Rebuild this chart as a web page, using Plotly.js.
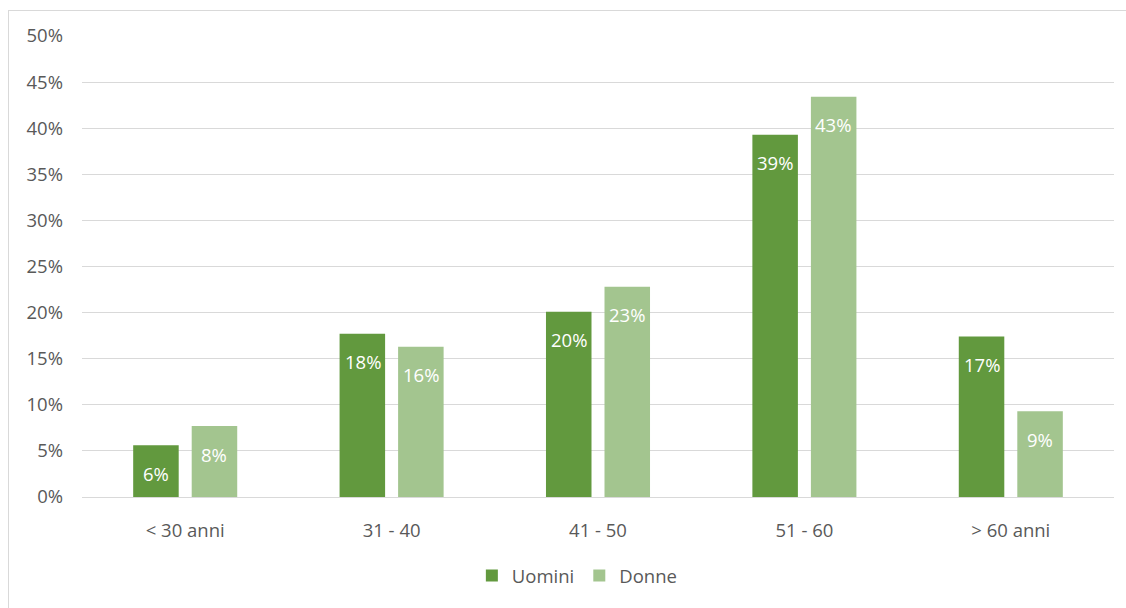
<!DOCTYPE html>
<html>
<head>
<meta charset="utf-8">
<script src="https://cdn.plot.ly/plotly-3.0.1.min.js"></script>
<style>
  html, body { margin: 0; padding: 0; background: #fff; }
  #frame { position: absolute; left: 8px; top: 10px; width: 1130px; height: 610px; border: 1px solid #d9d9d9; box-sizing: border-box; }
  #chart { position: absolute; left: 0; top: 0; width: 1126px; height: 608px; }
</style>
</head>
<body>
<div id="frame"></div>
<div id="chart"></div>
<script>
const categories = ['< 30 anni', '31 - 40', '41 - 50', '51 - 60', '> 60 anni'];
const uomini = [5.6, 17.7, 20.1, 39.3, 17.4];
const donne = [7.7, 16.3, 22.8, 43.4, 9.3];
const seriesNames = ['Uomini', 'Donne'];
const yTickVals = [0, 5, 10, 15, 20, 25, 30, 35, 40, 45, 50];

const colors = ['#62993E', '#A3C58F'];
const fontFam = '"Open Sans", "Noto Sans", sans-serif';
const fs = 18.5;

const traces = [uomini, donne].map((vals, i) => ({
  type: 'bar',
  name: seriesNames[i],
  x: categories,
  y: vals,
  marker: { color: colors[i] },
  hoverinfo: 'skip'
}));

const annotations = [];
[uomini, donne].forEach((vals, i) => {
  vals.forEach((v, j) => {
    annotations.push({
      x: categories[j], y: v, xref: 'x', yref: 'y',
      text: Math.round(v) + '%', showarrow: false,
      xshift: i === 0 ? -29 : 29, yshift: -28,
      font: { family: fontFam, size: fs, color: '#ffffff' }
    });
  });
});

const layout = {
  width: 1126, height: 608,
  margin: { l: 82, r: 12, t: 36, b: 111 },
  paper_bgcolor: 'rgba(0,0,0,0)',
  plot_bgcolor: 'rgba(0,0,0,0)',
  barmode: 'group',
  bargap: 0.433,
  bargroupgap: 0.222,
  font: { family: fontFam, size: fs, color: '#595959' },
  xaxis: {
    type: 'category',
    showgrid: false, showline: false, zeroline: false,
    ticks: '', ticklabelstandoff: 20,
    tickfont: { family: fontFam, size: fs, color: '#595959' }
  },
  yaxis: {
    range: [0, 50],
    tickvals: yTickVals,
    ticktext: yTickVals.map(v => v + '%'),
    showgrid: true, gridcolor: '#d9d9d9', gridwidth: 1,
    zeroline: true, zerolinecolor: '#d9d9d9', zerolinewidth: 1,
    showline: false, ticks: '', ticklabelstandoff: 18,
    tickfont: { family: fontFam, size: fs, color: '#595959' }
  },
  legend: {
    orientation: 'h', x: 0.48, xanchor: 'center', y: -0.13, yanchor: 'top',
    font: { family: fontFam, size: fs, color: '#595959' },
    itemwidth: 30, tracegroupgap: 0
  },
  annotations: annotations,
  showlegend: true
};

Plotly.newPlot('chart', traces, layout, { displayModeBar: false, staticPlot: true });
</script>
</body>
</html>
